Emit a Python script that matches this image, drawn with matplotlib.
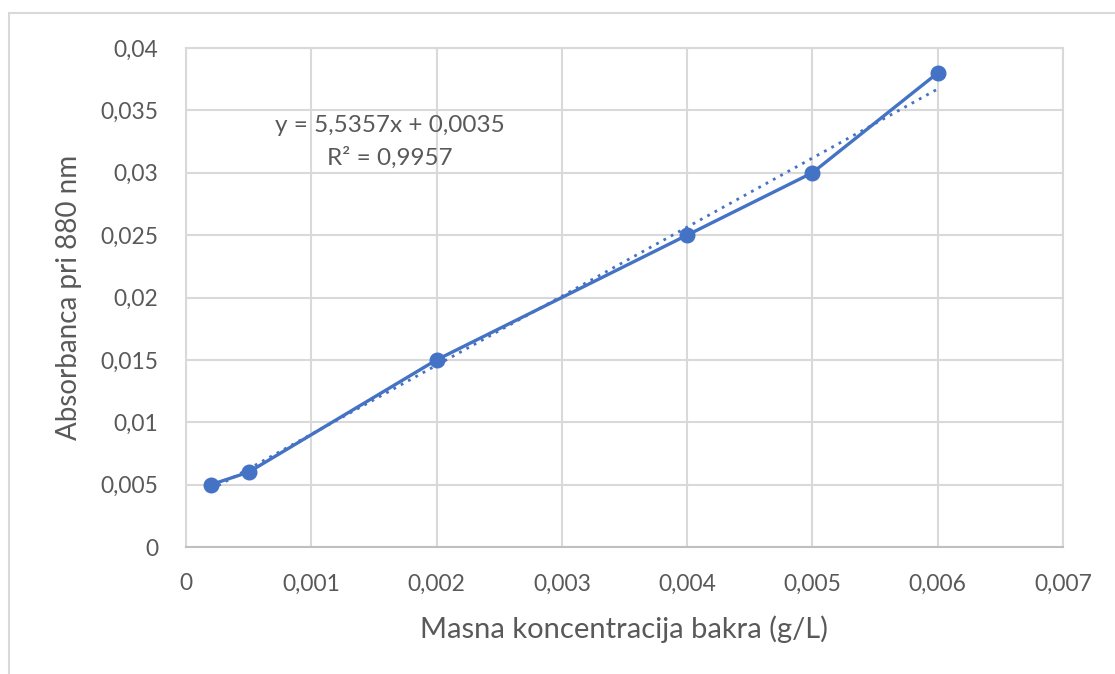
import numpy as np
import matplotlib
matplotlib.use("Agg")
import matplotlib.pyplot as plt
from matplotlib.patches import Rectangle

# Calibration data
conc = [0.0002, 0.0005, 0.002, 0.004, 0.005, 0.006]
absorb = [0.005, 0.006, 0.015, 0.025, 0.030, 0.038]
slope = 5.5357
intercept = 0.0035
r2_text = "R² = 0,9957"
eq_text = "y = 5,5357x + 0,0035"

x_ticks = [0, 0.001, 0.002, 0.003, 0.004, 0.005, 0.006, 0.007]
x_labels = ["0", "0,001", "0,002", "0,003", "0,004", "0,005", "0,006", "0,007"]
y_ticks = [0, 0.005, 0.01, 0.015, 0.02, 0.025, 0.03, 0.035, 0.04]
y_labels = ["0", "0,005", "0,01", "0,015", "0,02", "0,025", "0,03", "0,035", "0,04"]

BLUE = "#4472C4"
GRID = "#d9d9d9"
TEXT = "#595959"

plt.rcParams["font.family"] = ["Lato", "DejaVu Sans"]

fig = plt.figure(figsize=(11.15, 6.74), dpi=100)
fig.patches.append(Rectangle((9 / 1115, -0.01), 1.1, (674 - 13) / 674 + 0.01,
                             transform=fig.transFigure, fill=False,
                             edgecolor=GRID, linewidth=1.5))
ax = fig.add_axes([186 / 1115, (674 - 547) / 674, (1063 - 186) / 1115, (547 - 48) / 674])

ax.set_xlim(0, 0.007)
ax.set_ylim(0, 0.04)
ax.set_xticks(x_ticks)
ax.set_xticklabels(x_labels)
ax.set_yticks(y_ticks)
ax.set_yticklabels(y_labels)
ax.grid(True, color=GRID, linewidth=1.5)
ax.set_axisbelow(True)
for s in ["top", "right", "left"]:
    ax.spines[s].set_color(GRID)
    ax.spines[s].set_linewidth(1.5)
ax.spines["bottom"].set_color("#bfbfbf")
ax.spines["bottom"].set_linewidth(1.5)
ax.tick_params(length=0, labelsize=16.4, colors=TEXT)
ax.tick_params(axis="y", pad=20)
ax.tick_params(axis="x", pad=19)

# data line
ax.plot(conc, absorb, "-o", color=BLUE, linewidth=2.4, markersize=10.5, zorder=3)

# linear trendline
tx = np.array([conc[0], conc[-1]])
ax.plot(tx, slope * tx + intercept, linestyle=(0, (1, 2)), color=BLUE,
        linewidth=2, zorder=2)

ax.text(0.00163, 0.0338, eq_text, ha="center", va="center", fontsize=17.5, color=TEXT)
ax.text(0.00163, 0.0312, r2_text, ha="center", va="center", fontsize=17.5, color=TEXT)

ax.set_xlabel("Masna koncentracija bakra (g/L)", fontsize=21, color=TEXT, labelpad=15)
ax.set_ylabel("Absorbanca pri 880 nm", fontsize=20, color=TEXT, labelpad=13)

fig.savefig("out.png", dpi=100)
